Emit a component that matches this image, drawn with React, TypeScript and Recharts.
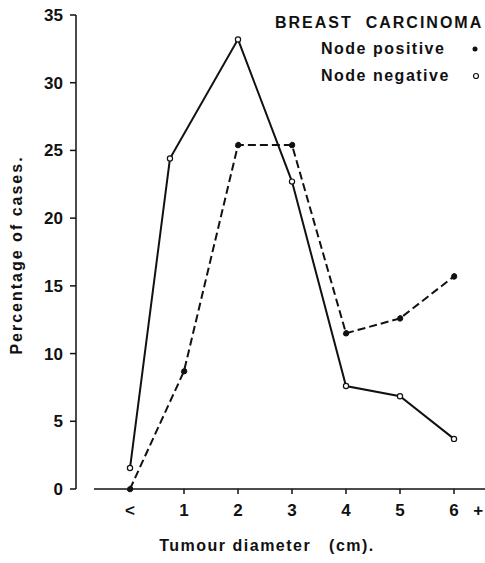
import React from 'react';
import {
  LineChart,
  Line,
  XAxis,
  YAxis,
  ReferenceLine,
} from 'recharts';

// tumour diameter positions (0 = "<1 cm")
const negX = [0, 0.74, 2, 3, 4, 5, 6];
const negVals = [1.55, 24.4, 33.2, 22.7, 7.6, 6.85, 3.7];

const posX = [0, 1, 2, 3, 4, 5, 6];
const posVals = [0, 8.7, 25.4, 25.4, 11.5, 12.6, 15.7];

const xTicks = [0, 1, 2, 3, 4, 5, 6, 6.45];
const xTickLabels = ['<', '1', '2', '3', '4', '5', '6', '+'];
const yTicks = [0, 5, 10, 15, 20, 25, 30, 35];

const negData = negX.map((x, i) => ({ x, y: negVals[i] }));
const posData = posX.map((x, i) => ({ x, y: posVals[i] }));

const FONT = '"Liberation Sans", Arial, sans-serif';
const INK = '#111';

const XTick = (props: any) => {
  const { x, y, payload } = props;
  const i = xTicks.indexOf(payload.value);
  const showLine = payload.value >= 1 && payload.value <= 6;
  return (
    <g>
      {showLine && <line x1={x} x2={x} y1={y} y2={y + 5} stroke={INK} strokeWidth={1.5} />}
      <text
        x={x}
        y={y + 27}
        textAnchor="middle"
        fontFamily={FONT}
        fontWeight="bold"
        fontSize={17}
        fill={INK}
      >
        {xTickLabels[i]}
      </text>
    </g>
  );
};

// legend drawn as an overlay so it doesn't shrink the plot area
const LegendBox = () => (
  <div
    style={{
      position: 'absolute',
      left: 275,
      top: 12,
      width: 210,
      height: 80,
      fontFamily: FONT,
      fontWeight: 'bold',
      color: INK,
      fontSize: 16,
      letterSpacing: 1.5,
      lineHeight: '18px',
    }}
  >
    <div style={{ position: 'absolute', left: 0, top: 2, whiteSpace: 'pre', letterSpacing: 2 }}>
      {'BREAST  CARCINOMA'}
    </div>
    <div style={{ position: 'absolute', left: 46, top: 28, whiteSpace: 'pre' }}>Node positive</div>
    <svg style={{ position: 'absolute', left: 195, top: 32 }} width={10} height={10}>
      <circle cx={5} cy={5} r={2.5} fill={INK} />
    </svg>
    <div style={{ position: 'absolute', left: 46, top: 55, whiteSpace: 'pre' }}>Node negative</div>
    <svg style={{ position: 'absolute', left: 196, top: 59 }} width={10} height={10}>
      <circle cx={5} cy={5} r={2.5} fill="#fff" stroke={INK} strokeWidth={1.2} />
    </svg>
  </div>
);

export default function App() {
  return (
    <div style={{ position: 'absolute', left: 0, top: 0, width: 485, height: 563, background: '#fff' }}>
      <LineChart width={485} height={563} margin={{ top: 15, right: 0, bottom: 0, left: 0 }}>
        <XAxis
          dataKey="x"
          type="number"
          domain={[-1, 6.574]}
          ticks={xTicks}
          interval={0}
          axisLine={false}
          tickLine={false}
          tickSize={0}
          tickMargin={0}
          tick={<XTick />}
          height={74}
          allowDuplicatedCategory={false}
          label={() => (
            <text
              x={267}
              y={551}
              textAnchor="middle"
              fontFamily={FONT}
              fontWeight="bold"
              fontSize={16}
              fill={INK}
              style={{ whiteSpace: 'pre', letterSpacing: 1.5 }}
            >
              {'Tumour diameter   (cm).'}
            </text>
          )}
        />
        <YAxis
          dataKey="y"
          type="number"
          domain={[0, 35]}
          ticks={yTicks}
          interval={0}
          width={76}
          axisLine={{ stroke: INK, strokeWidth: 1.5 }}
          tickLine={{ stroke: INK, strokeWidth: 1.5 }}
          tickSize={6}
          tickMargin={7}
          tick={{ fontFamily: FONT, fontWeight: 'bold', fontSize: 17, fill: INK }}
          label={() => (
            <text
              x={22}
              y={255}
              transform="rotate(-90 22 255)"
              textAnchor="middle"
              fontFamily={FONT}
              fontWeight="bold"
              fontSize={16}
              fill={INK}
              style={{ letterSpacing: 2 }}
            >
              Percentage of cases.
            </text>
          )}
        />
        <ReferenceLine
          segment={[
            { x: -0.667, y: 0 },
            { x: 6.574, y: 0 },
          ]}
          stroke={INK}
          strokeWidth={1.5}
        />
        <Line
          data={negData}
          dataKey="y"
          name="Node negative"
          stroke={INK}
          strokeWidth={2}
          dot={{ r: 2.6, fill: '#fff', stroke: INK, strokeWidth: 1.2 }}
          isAnimationActive={false}
        />
        <Line
          data={posData}
          dataKey="y"
          name="Node positive"
          stroke={INK}
          strokeWidth={2}
          strokeDasharray="8 4"
          dot={{ r: 2.8, fill: INK, stroke: INK, strokeWidth: 1 }}
          isAnimationActive={false}
        />
      </LineChart>
      <LegendBox />
    </div>
  );
}
